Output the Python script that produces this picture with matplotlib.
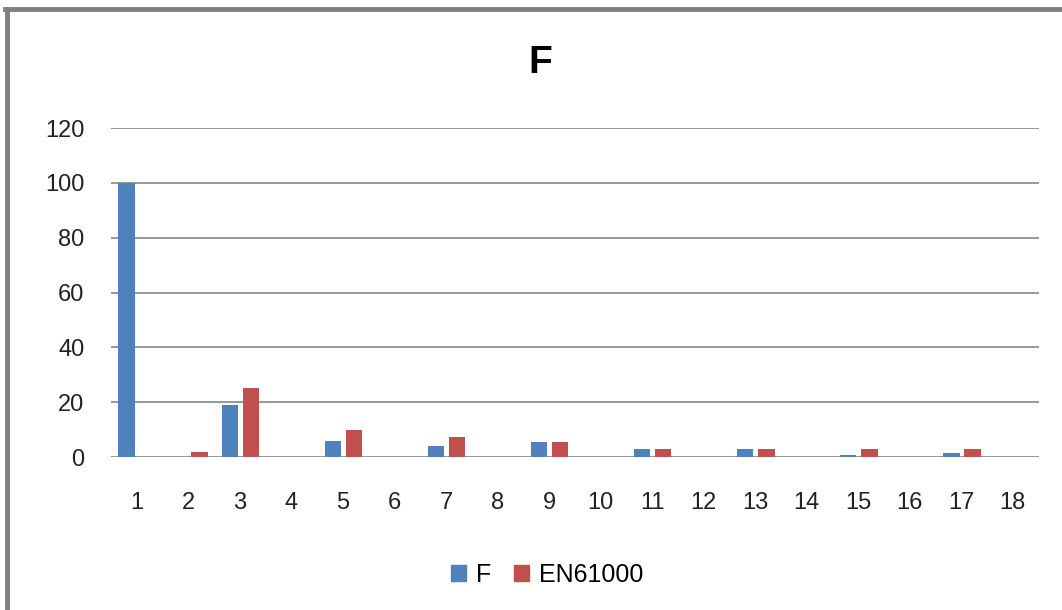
import matplotlib
matplotlib.use("Agg")
import matplotlib.pyplot as plt
import numpy as np
from matplotlib.patches import Patch

plt.rcParams["font.family"] = ["Liberation Sans", "DejaVu Sans"]

# harmonic order and values
harmonics = list(range(1, 19))
f_values = [100, 0, 19, 0, 5.7, 0, 4.2, 0, 5.3, 0, 2.8, 0, 2.8, 0, 0.6, 0, 1.3, 0]
en61000 = [0, 2, 25.3, 0, 9.7, 0, 7.2, 0, 5.3, 0, 2.8, 0, 2.8, 0, 2.8, 0, 2.8, 0]
y_ticks = [0, 20, 40, 60, 80, 100, 120]

blue = "#4F81BD"
red = "#C0504D"
grid_grey = "#868686"

fig = plt.figure(figsize=(10.62, 6.10), dpi=100)
ax = fig.add_axes([0.1045, 0.2508, 0.978 - 0.1045, 0.790 - 0.2508])

x = np.arange(len(harmonics))
ax.bar(x - 0.195, f_values, width=0.32, color=blue, zorder=3)
ax.bar(x + 0.215, en61000, width=0.32, color=red, zorder=3)

ax.set_xlim(-0.5, len(harmonics) - 0.5)
ax.set_ylim(0, 120)
ax.set_yticks(y_ticks)
ax.set_xticks(x)
ax.set_xticklabels([str(h) for h in harmonics])
ax.tick_params(axis="both", length=0, labelsize=17, colors="#222222")
ax.tick_params(axis="x", pad=25)
ax.tick_params(axis="y", pad=19)
ax.yaxis.grid(True, color=grid_grey, linewidth=1.2, zorder=0)
for s in ax.spines.values():
    s.set_visible(False)

fig.text(540 / 1062, 1 - 63 / 610, "F", ha="center", va="center",
         fontsize=28, fontweight="bold")

handles = [Patch(color=blue, label="F"), Patch(color=red, label="EN61000")]
fig.legend(handles=handles, loc="center", bbox_to_anchor=(547 / 1062, 1 - 575 / 610),
           ncol=2, frameon=False, fontsize=18, handlelength=0.6, handleheight=0.6,
           handletextpad=0.4, columnspacing=0.9)

# chart-area border (only left and top visible in the reference crop)
fig.add_artist(plt.Line2D([7 / 1062, 7 / 1062], [0, 1 - 9 / 610], color="#808080",
                          linewidth=3.5, transform=fig.transFigure))
fig.add_artist(plt.Line2D([5 / 1062, 1], [1 - 9 / 610, 1 - 9 / 610], color="#808080",
                          linewidth=3.5, transform=fig.transFigure))

fig.savefig("out.png", dpi=100)
